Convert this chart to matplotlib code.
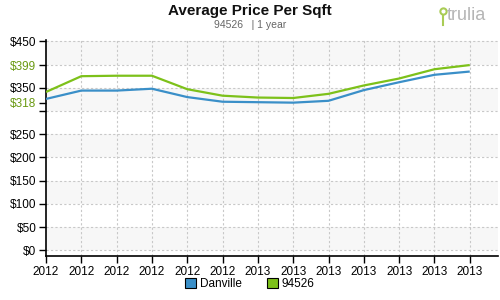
import matplotlib.pyplot as plt
import matplotlib.patches as mpatches
from matplotlib.lines import Line2D
import numpy as np

plt.rcParams['font.family'] = ['Liberation Sans', 'DejaVu Sans']

# data
x_labels = ['2012'] * 6 + ['2013'] * 7
danville = [326, 344, 344, 348, 330, 320, 319, 318, 322, 345, 362, 378, 385]
zip_94526 = [341, 375, 376, 376, 347, 333, 329, 328, 337, 355, 370, 390, 399]
y_ticks = [0, 50, 100, 150, 200, 250, 300, 318, 350, 399, 450]
y_tick_labels = ['$0', '$50', '$100', '$150', '$200', '$250', '', '$318', '$350', '$399', '$450']
y_grid = [0, 50, 100, 150, 200, 250, 300, 350, 400, 450]
marked = [318, 399]

blue = '#3a8fc8'
green = '#7dc11a'
mark_green = '#6a9a12'

fig = plt.figure(figsize=(5, 3), dpi=100)
ax = fig.add_axes([0.092, 0.1457, 0.904, 0.7210])

x = np.arange(len(x_labels))

# alternating background bands
for i, lo in enumerate(y_grid[:-1]):
    if i % 2 == 0:
        ax.axhspan(lo, y_grid[i + 1], color='#f7f7f7', zorder=0, lw=0)

for g in y_grid:
    ax.axhline(g, color='#c8c8c8', lw=0.8, ls=(0, (2, 2)), zorder=1)
for xi in x[1:]:
    ax.axvline(xi, color='#c8c8c8', lw=0.8, ls=(0, (2, 2)), zorder=1)

ax.plot(x, danville, color=blue, lw=1.6, zorder=3, solid_capstyle='butt')
ax.plot(x, zip_94526, color=green, lw=1.6, zorder=3, solid_capstyle='butt')

ax.set_xlim(0, 12.8)
ax.set_ylim(-13, 453)

ax.set_yticks(y_ticks)
ax.set_yticklabels(y_tick_labels, fontsize=8.5)
for lab, v in zip(ax.get_yticklabels(), y_ticks):
    if v in marked:
        lab.set_color(mark_green)
ax.tick_params(axis='y', direction='out', length=5, width=1, pad=2)
for t, v in zip(ax.yaxis.get_major_ticks(), y_ticks):
    if v in marked:
        t.tick1line.set_color(mark_green)

ax.set_xticks(x)
ax.set_xticklabels(x_labels, fontsize=8.5)
ax.tick_params(axis='x', direction='out', length=5, width=1, pad=2)

for s in ['top', 'right']:
    ax.spines[s].set_visible(False)
ax.spines['left'].set_linewidth(1.2)
ax.spines['bottom'].set_linewidth(1.2)

# title block
fig.text(0.5, 0.963, 'Average Price Per Sqft', ha='center', va='center',
         fontsize=11, fontweight='bold', color='#111111')
fig.text(0.5, 0.918, '94526   | 1 year', ha='center', va='center',
         fontsize=7.5, color='#666666')

# logo
fig.text(0.893, 0.948, 'trulia', ha='left', va='center', fontsize=13,
         color='#b5b5b5')
fig.add_artist(Line2D([0.886], [0.962], marker='o', ms=4.5, mfc='none',
                      mec='#a9cc55', mew=1.5, transform=fig.transFigure))
fig.add_artist(Line2D([0.886, 0.886], [0.948, 0.918], color='#a9cc55', lw=1.5,
                      transform=fig.transFigure))

# legend
handles = [mpatches.Patch(facecolor=blue, edgecolor='black', lw=0.8, label='Danville'),
           mpatches.Patch(facecolor=green, edgecolor='black', lw=0.8, label='94526')]
fig.legend(handles=handles, loc='center', bbox_to_anchor=(0.5, 0.053), ncol=2,
           frameon=False, fontsize=8.5, handlelength=0.9, handleheight=0.9,
           handletextpad=0.3, columnspacing=2.2)

fig.savefig('out.png', dpi=100)
